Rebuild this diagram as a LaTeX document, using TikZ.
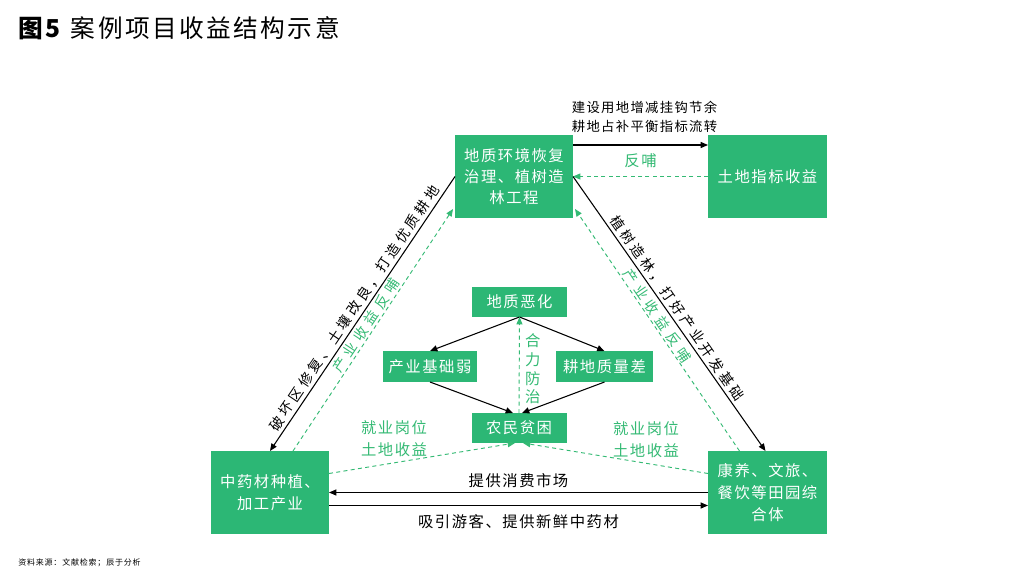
\documentclass[tikz,border=0pt]{standalone}
\usepackage{fontspec}
\setmainfont[LetterSpace=10]{Noto Sans CJK SC}
\newfontfamily\diagfont[LetterSpace=24]{Noto Sans CJK SC}
\newfontfamily\gdiagfont[LetterSpace=36]{Noto Sans CJK SC}
\usetikzlibrary{arrows.meta,calc}
\definecolor{boxgreen}{RGB}{44,183,117}
\definecolor{txtgreen}{RGB}{52,186,116}
\begin{document}
\begin{tikzpicture}[x=0.75pt,y=-0.75pt,
  box/.style={draw=none, fill=boxgreen, text=white, inner sep=0pt, outer sep=0pt, align=center, font=\fontsize{11.5}{15.5}\selectfont},
  bigbox/.style={box, minimum width=88.5pt, minimum height=62.25pt},
  smallbox/.style={box, minimum width=71.25pt, minimum height=22.5pt},
  blk/.style={draw=black, line width=0.8pt, -{Triangle[length=5.5pt,width=4.5pt]}},
  gdash/.style={draw=txtgreen, line width=0.7pt, dash pattern=on 3pt off 2.5pt, -{Triangle[length=5.5pt,width=4.5pt]}},
  lab/.style={inner sep=0pt, font=\fontsize{11.5}{16.5}\selectfont, align=center},
  glab/.style={lab, text=txtgreen},
  dlab/.style={inner sep=0pt, font=\diagfont\fontsize{10.5}{12}\selectfont},
  gdlab/.style={inner sep=0pt, text=txtgreen, font=\gdiagfont\fontsize{10.5}{12}\selectfont},
  toplab/.style={inner sep=0pt, font=\fontsize{10}{14.25}\selectfont, align=center},
]
\fill[white] (0,0) rectangle (1024,574);
\useasboundingbox (0,0) rectangle (1024,574);

% title and footer
\node[anchor=west, inner sep=0pt, font=\fontsize{18.5}{20}\selectfont] (title) at (18,28) {\textbf{图5}\hspace{6pt}案例项目收益结构示意};
\node[anchor=west, inner sep=0pt, font=\fontsize{6}{7}\selectfont] (src) at (18,563) {资料来源：文献检索；辰于分析};

% boxes
\node[bigbox, font=\fontsize{11.5}{15.5}\selectfont] (tb) at (514,176.5) {地质环境恢复\\治理、植树造\\林工程};
\node[bigbox, minimum width=89.25pt] (tr) at (767.5,176.5) {土地指标收益};
\node[bigbox, font=\fontsize{11.5}{16.5}\selectfont] (bl) at (270,492.5) {中药材种植、\\加工产业};
\node[bigbox, minimum width=89.25pt, font=\fontsize{11.5}{16.5}\selectfont] (br) at (767.5,492.5) {康养、文旅、\\餐饮等田园综\\合体};

\node[smallbox] (dz) at (519.5,302) {地质恶化};
\node[smallbox, minimum width=70.5pt, minimum height=23.25pt] (cy) at (430,366.5) {产业基础弱};
\node[smallbox, minimum width=72.75pt, minimum height=23.25pt] (gd) at (604.5,366.5) {耕地质量差};
\node[smallbox] (nm) at (519,428) {农民贫困};

% top connectors
\draw[blk] ($(tb.north east)+(0,10)$) -- ($(tr.north west)+(0,10)$)
  node[midway, above=9pt, toplab, xshift=3pt] {建设用地增减挂钩节余\\耕地占补平衡指标流转};
\draw[gdash] (tr.west) -- (tb.east) node[midway, above=6pt, glab] {反哺};

% left diagonal
\draw[blk] (tb.west) -- (bl.north)
  node[midway, sloped, above=2pt, dlab] {破坏区修复、土壤改良，打造优质耕地};
\draw[gdash] ($(bl.north)+(23,0)$) -- ($(tb.south west)+(-2,-9)$)
  node[midway, sloped, above=1pt, gdlab] {产业收益反哺};

% right diagonal
\draw[blk] (tb.east) -- ($(br.north)+(-2,0)$)
  node[midway, sloped, above=2pt, dlab] {植树造林，打好产业开发基础};
\draw[gdash] ($(br.north)+(-28,0)$) -- ($(tb.south east)+(2,-9)$)
  node[pos=0.54, sloped, above=1pt, gdlab] {产业收益反哺};

% centre
\draw[blk] (dz.south) -- (cy.north);
\draw[blk] (dz.south) -- (gd.north);
\draw[blk] (cy.south) -- ($(nm.north)+(-6,0)$);
\draw[blk] (gd.south) -- ($(nm.north)+(3,0)$);
\draw[gdash] (nm.north) -- (dz.south)
  node[midway, right=4pt, glab, font=\fontsize{11.5}{14}\selectfont, yshift=-3pt] {合\\力\\防\\治};

% bottom dashed
\draw[gdash] ($(bl.east)+(0,-19)$) -- ($(nm.south)+(-4,0)$)
  node[pos=0.35, above=4pt, glab] {就业岗位\\土地收益};
\draw[gdash] ($(br.west)+(0,-19)$) -- ($(nm.south)+(4,0)$)
  node[pos=0.335, above=4pt, glab] {就业岗位\\土地收益};

% bottom arrows
\draw[blk] (br.west) -- (bl.east) node[midway, above=3.5pt, lab] {提供消费市场};
\draw[blk] ($(bl.east)+(0,13)$) -- ($(br.west)+(0,13)$)
  node[midway, below=6.5pt, lab] {吸引游客、提供新鲜中药材};
\end{tikzpicture}
\end{document}
